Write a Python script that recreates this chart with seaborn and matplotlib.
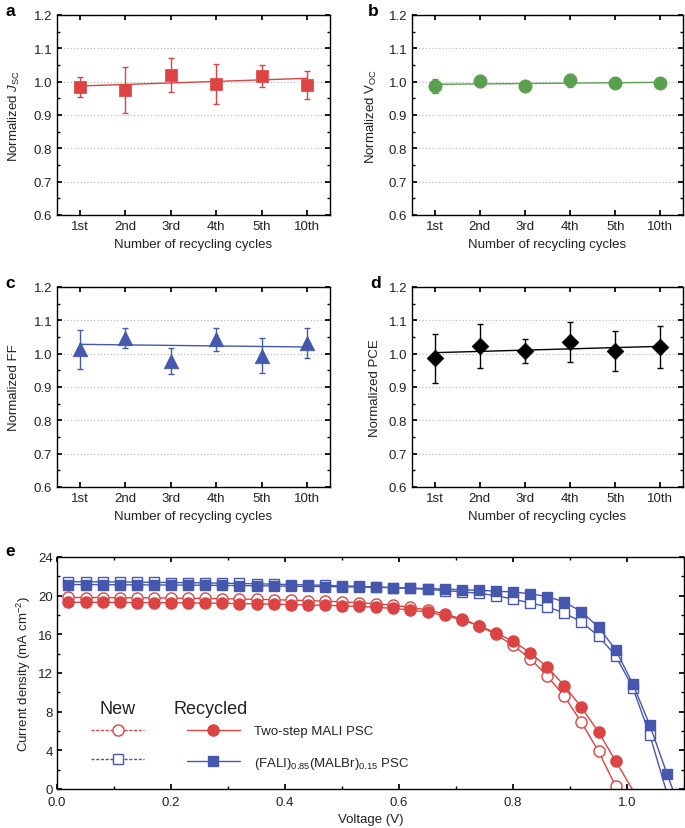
import numpy as np
import matplotlib
matplotlib.use("Agg")
import matplotlib.pyplot as plt
import seaborn as sns
from matplotlib.lines import Line2D
from matplotlib.ticker import MultipleLocator

# %%
# panels a-d: normalized parameters vs recycling cycle
cycles = ["1st", "2nd", "3rd", "4th", "5th", "10th"]

jsc = [0.985, 0.975, 1.020, 0.993, 1.017, 0.991]
jsc_err = [0.030, 0.068, 0.050, 0.060, 0.032, 0.042]
jsc_fit = [0.987, 1.010]

voc = [0.988, 1.003, 0.988, 1.004, 0.997, 0.996]
voc_err = [0.021, 0.018, 0.005, 0.019, 0.005, 0.015]
voc_fit = [0.992, 0.998]

ff = [1.013, 1.047, 0.978, 1.043, 0.994, 1.032]
ff_err = [0.059, 0.030, 0.039, 0.035, 0.053, 0.044]
ff_fit = [1.028, 1.020]

pce = [0.986, 1.022, 1.008, 1.035, 1.008, 1.020]
pce_err = [0.074, 0.066, 0.037, 0.060, 0.060, 0.063]
pce_fit = [1.003, 1.022]

# panel e: J-V curves
volt = [0.02, 0.05, 0.08, 0.11, 0.14, 0.17, 0.20, 0.23, 0.26, 0.29, 0.32, 0.35,
        0.38, 0.41, 0.44, 0.47, 0.50, 0.53, 0.56, 0.59, 0.62, 0.65, 0.68, 0.71,
        0.74, 0.77, 0.80, 0.83, 0.86, 0.89, 0.92, 0.95, 0.98, 1.01, 1.04, 1.07]
red_rec = [19.32, 19.32, 19.31, 19.30, 19.29, 19.28, 19.27, 19.25, 19.23, 19.21, 19.18,
           19.15, 19.12, 19.08, 19.04, 19.00, 18.95, 18.88, 18.80, 18.68, 18.52, 18.30,
           17.95, 17.50, 16.90, 16.15, 15.30, 14.10, 12.60, 10.70, 8.45, 5.90, 2.90]
red_new = [19.82, 19.81, 19.80, 19.79, 19.78, 19.77, 19.75, 19.73, 19.71, 19.68, 19.65,
           19.62, 19.58, 19.54, 19.49, 19.43, 19.36, 19.27, 19.15, 19.00, 18.80, 18.52,
           18.12, 17.60, 16.90, 16.00, 14.85, 13.50, 11.70, 9.60, 6.90, 3.90, 0.30]
blue_rec = [21.15, 21.15, 21.14, 21.13, 21.12, 21.11, 21.10, 21.09, 21.08, 21.06, 21.04,
            21.02, 21.00, 20.98, 20.96, 20.94, 20.92, 20.89, 20.86, 20.83, 20.79, 20.74,
            20.68, 20.62, 20.55, 20.47, 20.38, 20.20, 19.90, 19.35, 18.35, 16.75, 14.40,
            10.90, 6.60, 1.60]
blue_new = [21.45, 21.44, 21.43, 21.42, 21.40, 21.38, 21.36, 21.34, 21.32, 21.29, 21.26,
            21.23, 21.19, 21.15, 21.11, 21.07, 21.02, 20.96, 20.90, 20.83, 20.75, 20.65,
            20.52, 20.40, 20.25, 20.00, 19.65, 19.25, 18.85, 18.20, 17.30, 15.80, 13.80,
            10.50, 5.60]
# open-circuit end points (J = 0)
voc_end = {"red_rec": 1.009, "red_new": 0.983, "blue_rec": 1.080, "blue_new": 1.068}

RED = "#DC4343"
GREEN = "#5A9F4E"
BLUE = "#4657AE"
BLACK = "#000000"

# %%
sns.set_theme(style="ticks")
plt.rcParams.update({
    "font.family": ["Liberation Sans", "DejaVu Sans"],
    "font.size": 9.5,
    "mathtext.fontset": "custom",
    "mathtext.rm": "Liberation Sans",
    "mathtext.it": "Liberation Sans:italic",
    "axes.edgecolor": "black",
    "axes.linewidth": 1.0,
    "text.color": "#222222",
    "axes.labelcolor": "#222222",
    "xtick.color": "black",
    "ytick.color": "black",
    "xtick.labelcolor": "#222222",
    "ytick.labelcolor": "#222222",
    "xtick.labelsize": 9.5,
    "ytick.labelsize": 9.5,
    "axes.labelsize": 9.5,
    "xtick.direction": "in",
    "ytick.direction": "in",
    "xtick.top": True,
    "ytick.right": True,
    "xtick.major.size": 3.5,
    "ytick.major.size": 3.5,
    "xtick.minor.size": 2,
    "ytick.minor.size": 2,
})

W, H = 685, 829
fig = plt.figure(figsize=(W / 100, H / 100), dpi=100)


def box(left, top, right, bottom):
    return [left / W, 1 - bottom / H, (right - left) / W, (bottom - top) / H]


xpos = np.arange(len(cycles))


def param_panel(rect, vals, errs, fit, color, marker, ms, ylabel, ylab_x):
    ax = fig.add_axes(rect)
    ax.errorbar(xpos, vals, yerr=errs, fmt="none", ecolor=color, elinewidth=1.0,
                capsize=2.5, capthick=1.0, zorder=2)
    ax.plot([xpos[0], xpos[-1]], fit, color=color, lw=1.0, zorder=3)
    sns.scatterplot(x=xpos, y=vals, ax=ax, marker=marker, s=ms ** 2, color=color,
                    edgecolor=color, linewidth=0.5, zorder=4, legend=False)
    ax.set_xlim(-0.5, 5.5)
    ax.set_ylim(0.6, 1.2)
    ax.set_xticks(xpos)
    ax.set_xticklabels(cycles)
    ax.yaxis.set_major_locator(MultipleLocator(0.1))
    ax.yaxis.set_minor_locator(MultipleLocator(0.05))
    ax.yaxis.set_major_formatter(matplotlib.ticker.FormatStrFormatter("%.1f"))
    ax.yaxis.grid(True, linestyle=(0, (1, 2)), color="#B5B5B5", lw=0.8)
    ax.set_axisbelow(True)
    ax.set_xlabel("Number of recycling cycles")
    ax.set_ylabel(ylabel)
    ax.xaxis.set_label_coords(0.5, -0.115)
    ax.yaxis.set_label_coords(ylab_x, 0.5)
    return ax


param_panel(box(57, 16, 330, 216), jsc, jsc_err, jsc_fit, RED, "s", 8.5,
            r"Normalized $J_{\rm SC}$", -0.13)
param_panel(box(412, 16, 683, 216), voc, voc_err, voc_fit, GREEN, "o", 9.5,
            r"Normalized V$_{\rm OC}$", -0.12)
param_panel(box(57, 288, 330, 488), ff, ff_err, ff_fit, BLUE, "^", 10.5,
            "Normalized FF", -0.135)
param_panel(box(412, 288, 683, 488), pce, pce_err, pce_fit, BLACK, "D", 8.5,
            "Normalized PCE", -0.115)

# %%
ax = fig.add_axes(box(57, 558, 684, 790))

curves = [
    ("red_new", red_new, RED, "o", True, 8),
    ("red_rec", red_rec, RED, "o", False, 8),
    ("blue_new", blue_new, BLUE, "s", True, 7),
    ("blue_rec", blue_rec, BLUE, "s", False, 7),
]
for key, j, color, marker, hollow, ms in curves:
    v = volt[:len(j)]
    sns.lineplot(x=v + [voc_end[key]], y=j + [0.0], ax=ax, color=color, lw=1.0,
                 sort=False, estimator=None)
    ax.plot(v, j, linestyle="none", marker=marker, ms=ms,
            mfc="white" if hollow else color, mec=color, mew=1.0)

ax.set_xlim(0, 1.1)
ax.set_ylim(0, 24)
ax.set_xticks([0.0, 0.2, 0.4, 0.6, 0.8, 1.0])
ax.xaxis.set_minor_locator(MultipleLocator(0.1))
ax.yaxis.set_major_locator(MultipleLocator(4))
ax.yaxis.set_minor_locator(MultipleLocator(2))
ax.xaxis.set_major_formatter(matplotlib.ticker.FormatStrFormatter("%.1f"))
ax.tick_params(axis="x", which="major", pad=5)
ax.tick_params(axis="y", which="major", pad=3)
ax.set_xlabel("Voltage (V)")
ax.set_ylabel(r"Current density (mA cm$^{-2}$)")
ax.xaxis.set_label_coords(0.5, -0.105)
ax.yaxis.set_label_coords(-0.038, 0.5)

# legend
dash = (0, (2.2, 1.2))
new_handles = [
    Line2D([], [], color=RED, lw=1.0, ls=dash, marker="o", ms=8, mfc="white", mec=RED),
    Line2D([], [], color=BLUE, lw=1.0, ls=dash, marker="s", ms=7, mfc="white", mec=BLUE),
]
rec_handles = [
    Line2D([], [], color=RED, lw=1.0, marker="o", ms=8, mfc=RED, mec=RED),
    Line2D([], [], color=BLUE, lw=1.0, marker="s", ms=7, mfc=BLUE, mec=BLUE),
]
leg1 = ax.legend(new_handles, ["", ""], loc="upper left", bbox_to_anchor=(0.0545, 0.275),
                 frameon=False, borderpad=0, borderaxespad=0, handlelength=4.0,
                 handletextpad=0, labelspacing=1.3, fontsize=9.5)
ax.add_artist(leg1)
ax.legend(rec_handles, ["Two-step MALI PSC", r"(FALI)$_{0.85}$(MALBr)$_{0.15}$ PSC"],
          loc="upper left", bbox_to_anchor=(0.207, 0.275), frameon=False, borderpad=0,
          borderaxespad=0, handlelength=4.0, handletextpad=1.1, labelspacing=1.3,
          fontsize=9.5)
ax.text(0.097, 0.345, "New", transform=ax.transAxes, fontsize=13, ha="center", va="center")
ax.text(0.245, 0.345, "Recycled", transform=ax.transAxes, fontsize=13, ha="center",
        va="center")

# panel letters
for letter, (px, py) in zip("abcde", [(5, 11), (368, 11), (5, 283), (370, 283), (5, 552)]):
    fig.text(px / W, 1 - py / H, letter, fontsize=12.5, fontweight="bold", color="black",
             ha="left", va="center")

fig.savefig("out.png", dpi=100)
